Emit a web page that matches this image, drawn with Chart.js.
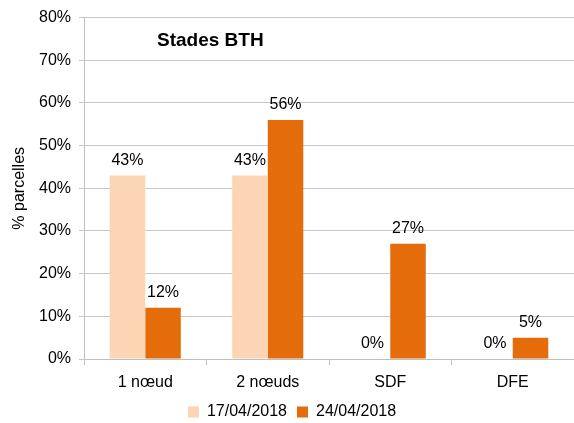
<!DOCTYPE html>
<html>
<head>
<meta charset="utf-8">
<script src="https://cdn.jsdelivr.net/npm/chart.js@4.4.1/dist/chart.umd.min.js"></script>
<style>
  html, body { margin: 0; padding: 0; background: #fff; }
  #wrap { width: 574px; height: 423px; }
</style>
</head>
<body>
<div id="wrap"><canvas id="chart" width="574" height="423"></canvas></div>
<script>
const categories = ['1 nœud', '2 nœuds', 'SDF', 'DFE'];
const serie1704 = [43, 43, 0, 0];
const serie2404 = [12, 56, 27, 5];
const seriesLabels = ['17/04/2018', '24/04/2018'];
const chartTitle = 'Stades BTH';

const FONT = 'Liberation Sans, Arial, sans-serif';

// value labels above bars + title inside the plot
const labelsPlugin = {
  id: 'labels',
  afterDatasetsDraw(chart) {
    const ctx = chart.ctx;
    ctx.save();
    ctx.font = '16px ' + FONT;
    ctx.fillStyle = '#000';
    ctx.textAlign = 'center';
    ctx.textBaseline = 'bottom';
    chart.data.datasets.forEach((ds, i) => {
      chart.getDatasetMeta(i).data.forEach((bar, j) => {
        ctx.fillText(ds.data[j] + '%', bar.x, bar.y - 7);
      });
    });
    ctx.font = 'bold 19px ' + FONT;
    ctx.textAlign = 'left';
    ctx.textBaseline = 'middle';
    ctx.fillText(chartTitle, 157, 41);
    ctx.restore();
  }
};

new Chart(document.getElementById('chart'), {
  type: 'bar',
  data: {
    labels: categories,
    datasets: [
      { label: seriesLabels[0], data: serie1704, backgroundColor: '#FCD5B5' },
      { label: seriesLabels[1], data: serie2404, backgroundColor: '#E46C0A' }
    ]
  },
  options: {
    responsive: false,
    animation: false,
    layout: { padding: { top: 6, right: 0, left: 10, bottom: -7 } },
    datasets: { bar: { categoryPercentage: 0.58, barPercentage: 1.0 } },
    plugins: {
      tooltip: { enabled: false },
      legend: {
        position: 'bottom',
        labels: {
          color: '#000',
          font: { family: FONT, size: 16 },
          boxWidth: 11,
          boxHeight: 11,
          padding: 10
        }
      }
    },
    scales: {
      x: {
        grid: { offset: true, drawOnChartArea: false, color: '#bfbfbf', tickLength: 6 },
        border: { color: '#bfbfbf' },
        ticks: { color: '#000', font: { family: FONT, size: 16 }, padding: 8 },
        afterFit: s => { s.height = 35; }
      },
      y: {
        min: 0,
        max: 80,
        ticks: {
          stepSize: 10,
          color: '#000',
          font: { family: FONT, size: 16 },
          padding: 8,
          callback: v => v + '%'
        },
        grid: { color: '#c8c8c8', tickLength: 5 },
        border: { color: '#bfbfbf' },
        title: { display: true, text: '% parcelles', color: '#000', font: { family: FONT, size: 16 }, padding: 0 },
        afterFit: s => { s.width = 74; }
      }
    }
  },
  plugins: [labelsPlugin]
});
</script>
</body>
</html>
